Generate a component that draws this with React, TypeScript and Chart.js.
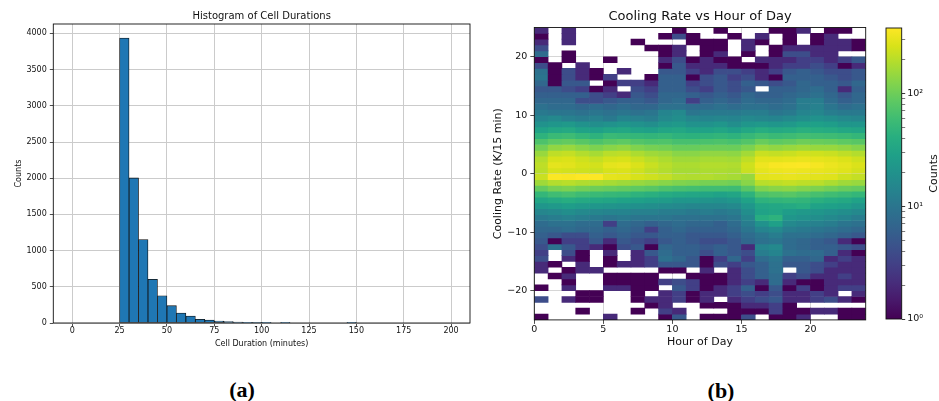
import React, { useEffect, useRef } from "react";
import { Chart, registerables } from "chart.js";

Chart.register(...registerables);
Chart.defaults.font.family = "'DejaVu Sans', sans-serif";
Chart.defaults.color = "#111";

// ---------- Histogram data ----------
const durationBinStart = [25, 30, 35, 40, 45, 50, 55, 60, 65, 70, 75, 80, 85, 90, 95, 100, 105, 110, 115, 120, 125, 130, 135, 140, 145];
const durationBinWidth = 5;
const durationCounts = [3935, 2004, 1153, 604, 377, 239, 138, 97, 52, 41, 28, 18, 13, 10, 6, 4, 0, 3, 0, 0, 0, 0, 0, 0, 4];
const durationTicks = [0, 25, 50, 75, 100, 125, 150, 175, 200];
const countTicks = [0, 500, 1000, 1500, 2000, 2500, 3000, 3500, 4000];

// ---------- Heatmap data ----------
const hourBinStart = [0, 1, 2, 3, 4, 5, 6, 7, 8, 9, 10, 11, 12, 13, 14, 15, 16, 17, 18, 19, 20, 21, 22, 23];
// lower edge of each cooling-rate bin, top row first
const rateBinStart = [24, 23, 22, 21, 20, 19, 18, 17, 16, 15, 14, 13, 12, 11, 10, 9, 8, 7, 6, 5, 4, 3, 2, 1, 0,
  -1, -2, -3, -4, -5, -6, -7, -8, -9, -10, -11, -12, -13, -14, -15, -16, -17, -18, -19, -20, -21, -22, -23, -24, -25];
const cellCounts: number[][] = [
  [2, 0, 2, 0, 0, 0, 0, 0, 0, 0, 1, 0, 0, 1, 0, 0, 0, 1, 1, 2, 0, 1, 1, 0],
  [1, 0, 2, 0, 0, 0, 0, 0, 0, 1, 4, 1, 0, 0, 1, 0, 2, 0, 1, 0, 1, 2, 0, 0],
  [2, 0, 2, 0, 0, 0, 0, 1, 0, 0, 0, 1, 1, 1, 0, 2, 1, 0, 1, 0, 1, 2, 2, 1],
  [4, 0, 0, 0, 0, 0, 0, 0, 1, 1, 2, 0, 1, 1, 0, 2, 0, 1, 2, 2, 2, 2, 2, 1],
  [8, 0, 1, 0, 0, 0, 0, 0, 0, 1, 2, 0, 1, 2, 0, 1, 0, 1, 4, 4, 2, 2, 0, 0],
  [1, 0, 1, 0, 0, 1, 0, 0, 0, 2, 4, 1, 2, 1, 1, 0, 2, 2, 2, 3, 3, 2, 3, 5],
  [4, 1, 0, 2, 0, 0, 0, 0, 0, 1, 5, 2, 2, 2, 1, 1, 1, 2, 3, 3, 4, 3, 1, 2],
  [9, 1, 4, 2, 1, 0, 2, 0, 0, 5, 5, 3, 2, 4, 4, 3, 2, 3, 5, 6, 5, 4, 4, 5],
  [10, 1, 4, 2, 1, 3, 0, 0, 1, 6, 6, 1, 4, 5, 3, 4, 2, 1, 6, 6, 6, 5, 4, 5],
  [7, 1, 5, 5, 0, 1, 3, 3, 2, 6, 6, 3, 4, 5, 4, 6, 5, 4, 5, 7, 6, 6, 5, 7],
  [5, 5, 4, 3, 1, 2, 0, 4, 3, 6, 6, 4, 3, 5, 4, 5, 0, 6, 6, 7, 8, 6, 2, 6],
  [6, 6, 6, 6, 4, 3, 2, 5, 4, 7, 7, 6, 5, 6, 5, 7, 6, 6, 7, 8, 9, 7, 5, 7],
  [7, 7, 7, 4, 4, 5, 6, 6, 5, 7, 8, 3, 6, 7, 6, 8, 7, 7, 8, 12, 12, 8, 6, 7],
  [9, 8, 8, 7, 8, 7, 8, 7, 7, 9, 9, 8, 8, 9, 8, 9, 9, 8, 9, 12, 13, 10, 8, 9],
  [11, 10, 10, 9, 10, 9, 10, 9, 10, 14, 16, 10, 11, 11, 11, 12, 12, 10, 11, 14, 15, 12, 11, 11],
  [14, 16, 13, 12, 13, 11, 14, 13, 12, 16, 18, 15, 14, 15, 14, 16, 15, 14, 16, 18, 20, 18, 16, 15],
  [20, 22, 24, 20, 18, 20, 22, 20, 18, 22, 24, 20, 20, 22, 18, 22, 24, 22, 24, 28, 28, 26, 22, 22],
  [30, 34, 36, 30, 28, 32, 34, 30, 28, 32, 34, 30, 30, 32, 28, 34, 40, 36, 38, 42, 40, 38, 34, 32],
  [45, 55, 58, 50, 45, 55, 52, 50, 48, 50, 45, 44, 46, 48, 45, 52, 60, 55, 58, 62, 60, 58, 55, 50],
  [70, 85, 90, 80, 70, 80, 85, 75, 70, 72, 65, 65, 68, 70, 66, 75, 95, 85, 90, 100, 95, 92, 85, 80],
  [105, 140, 150, 130, 115, 130, 140, 120, 110, 105, 95, 95, 100, 100, 98, 115, 150, 140, 150, 160, 150, 150, 140, 125],
  [150, 210, 220, 190, 170, 200, 210, 180, 160, 150, 130, 130, 140, 140, 135, 165, 230, 220, 230, 250, 240, 230, 210, 190],
  [190, 260, 270, 240, 220, 250, 260, 230, 200, 180, 160, 160, 170, 170, 165, 210, 290, 290, 300, 310, 300, 290, 270, 240],
  [210, 300, 290, 260, 250, 300, 310, 270, 230, 200, 180, 180, 190, 190, 185, 240, 330, 360, 370, 375, 350, 320, 300, 270],
  [200, 260, 250, 240, 230, 260, 270, 240, 210, 190, 170, 170, 180, 180, 175, 230, 300, 320, 330, 320, 310, 300, 280, 250],
  [230, 370, 360, 380, 375, 300, 290, 260, 240, 220, 190, 185, 190, 180, 170, 150, 290, 300, 310, 300, 290, 280, 240, 220],
  [160, 190, 200, 185, 180, 170, 160, 150, 140, 130, 120, 115, 110, 110, 105, 130, 200, 210, 220, 210, 200, 180, 160, 150],
  [90, 110, 115, 105, 100, 95, 90, 85, 80, 70, 65, 62, 60, 60, 58, 80, 120, 130, 135, 125, 115, 105, 95, 90],
  [50, 60, 65, 58, 55, 52, 50, 45, 42, 38, 35, 33, 32, 30, 32, 45, 70, 75, 80, 72, 65, 60, 55, 50],
  [32, 36, 40, 36, 34, 32, 30, 28, 26, 25, 22, 22, 21, 20, 22, 30, 45, 48, 50, 48, 42, 38, 35, 30],
  [22, 24, 26, 24, 22, 21, 20, 19, 18, 17, 16, 15, 15, 15, 16, 22, 32, 34, 36, 40, 30, 28, 26, 22],
  [15, 16, 18, 16, 15, 14, 14, 13, 13, 12, 12, 11, 12, 11, 12, 18, 30, 32, 26, 24, 22, 20, 18, 16],
  [11, 12, 13, 12, 11, 10, 11, 10, 10, 10, 9, 9, 9, 9, 10, 15, 40, 45, 22, 20, 18, 16, 14, 12],
  [8, 9, 9, 8, 8, 3, 8, 7, 6, 7, 8, 7, 7, 6, 8, 12, 20, 28, 16, 14, 13, 12, 10, 9],
  [7, 7, 8, 7, 7, 6, 7, 6, 3, 6, 7, 6, 6, 6, 7, 10, 14, 16, 12, 11, 10, 9, 8, 7],
  [6, 5, 4, 4, 6, 5, 6, 5, 5, 6, 6, 5, 5, 5, 6, 8, 10, 12, 9, 9, 8, 7, 6, 5],
  [5, 1, 3, 3, 5, 2, 5, 4, 3, 5, 6, 5, 4, 4, 5, 7, 9, 10, 8, 7, 6, 5, 2, 1],
  [4, 9, 5, 3, 2, 1, 4, 5, 1, 7, 6, 6, 5, 6, 5, 2, 14, 16, 8, 7, 6, 6, 5, 4],
  [3, 0, 4, 1, 0, 2, 0, 2, 5, 8, 6, 6, 4, 6, 5, 4, 12, 14, 9, 8, 8, 6, 2, 1],
  [4, 0, 2, 1, 0, 1, 0, 2, 3, 9, 7, 5, 1, 3, 7, 3, 8, 10, 6, 6, 7, 2, 3, 2],
  [2, 1, 0, 2, 0, 1, 2, 2, 3, 5, 5, 5, 1, 4, 3, 5, 6, 9, 5, 5, 4, 3, 2, 2],
  [2, 0, 1, 2, 2, 0, 0, 0, 0, 1, 1, 0, 2, 0, 2, 4, 6, 9, 0, 5, 4, 2, 2, 2],
  [0, 1, 2, 0, 0, 1, 1, 1, 1, 0, 0, 1, 1, 1, 2, 4, 6, 8, 3, 4, 2, 2, 3, 2],
  [0, 0, 1, 0, 0, 1, 1, 1, 1, 3, 4, 3, 1, 1, 2, 3, 2, 8, 2, 1, 1, 2, 2, 2],
  [1, 0, 2, 0, 0, 2, 2, 1, 1, 0, 5, 3, 1, 2, 3, 6, 1, 5, 1, 3, 1, 2, 3, 3],
  [0, 0, 0, 1, 1, 0, 0, 1, 0, 2, 3, 1, 2, 2, 3, 4, 3, 4, 2, 2, 3, 2, 0, 2],
  [4, 0, 2, 1, 1, 0, 0, 1, 2, 2, 3, 1, 2, 0, 2, 3, 4, 5, 2, 2, 3, 4, 2, 1],
  [0, 0, 0, 0, 0, 0, 0, 0, 1, 2, 0, 0, 1, 1, 1, 2, 2, 3, 1, 0, 0, 0, 0, 0],
  [0, 0, 0, 1, 0, 0, 0, 1, 0, 3, 2, 0, 0, 0, 1, 1, 1, 3, 1, 1, 2, 2, 1, 1],
  [1, 0, 0, 0, 0, 2, 0, 0, 0, 1, 5, 0, 1, 1, 1, 4, 0, 1, 1, 2, 0, 0, 1, 1],
];
const hourTicks = [0, 5, 10, 15, 20];
const rateTicks = [-20, -10, 0, 10, 20];
const colorbarMax = 380;
const colorbarMajor = [1, 10, 100];
const colorbarMinor = [2, 3, 4, 5, 6, 7, 8, 9, 20, 30, 40, 50, 60, 70, 80, 90, 200, 300];
const superscripts = ["\u2070", "\u00b9", "\u00b2"];

// ---------- styling ----------
const VIRIDIS = ["#440154", "#48186a", "#472d7b", "#424086", "#3b528b", "#33638d", "#2c728e", "#26828e",
  "#21918c", "#1fa088", "#28ae80", "#3fbc73", "#5ec962", "#84d44b", "#addc30", "#d8e219", "#fde725"];

function hexRgb(h: string) {
  return [parseInt(h.slice(1, 3), 16), parseInt(h.slice(3, 5), 16), parseInt(h.slice(5, 7), 16)];
}
function viridis(t: number) {
  const tt = Math.max(0, Math.min(1, t));
  const n = VIRIDIS.length - 1;
  const f = tt * n;
  const i = Math.min(Math.floor(f), n - 1);
  const u = f - i;
  const a = hexRgb(VIRIDIS[i]);
  const b = hexRgb(VIRIDIS[i + 1]);
  const c = a.map((v, k) => Math.round(v + (b[k] - v) * u));
  return `rgb(${c[0]},${c[1]},${c[2]})`;
}
function countColor(c: number) {
  return viridis(Math.log10(c) / Math.log10(colorbarMax));
}

const framePlugin = {
  id: "frame",
  afterDraw(chart: any) {
    const { ctx, chartArea: a } = chart;
    ctx.save();
    ctx.strokeStyle = "#111";
    ctx.lineWidth = 0.9;
    ctx.strokeRect(a.left, a.top, a.right - a.left, a.bottom - a.top);
    ctx.restore();
  },
};

const cbLabelPlugin = {
  id: "cbLabel",
  afterDraw(chart: any) {
    const { ctx, chartArea: a } = chart;
    ctx.save();
    ctx.translate(59, (a.top + a.bottom) / 2);
    ctx.rotate(-Math.PI / 2);
    ctx.font = "11px 'DejaVu Sans', sans-serif";
    ctx.fillStyle = "#111";
    ctx.textAlign = "center";
    ctx.textBaseline = "middle";
    ctx.fillText("Counts", 0, 0);
    ctx.restore();
  },
};

const noPlugins = { legend: { display: false }, tooltip: { enabled: false } };
const plainLabel = (v: any) => String(v);

function histConfig(): any {
  const points = durationBinStart
    .map((s, i) => ({ x: s + durationBinWidth / 2, y: durationCounts[i] }))
    .filter((p) => p.y > 0);
  const grid = { color: "#cbcbcb", lineWidth: 1, tickColor: "#222", tickLength: 3.5, tickWidth: 0.8, offset: false };
  return {
    type: "bar",
    data: {
      datasets: [{
        data: points,
        backgroundColor: "#1f77b4",
        borderColor: "#111",
        borderWidth: 0.8,
        borderSkipped: false,
        barPercentage: 1,
        categoryPercentage: 1,
      }],
    },
    options: {
      responsive: false,
      animation: false,
      layout: { padding: { left: 0, right: 10, top: 0, bottom: 0 } },
      plugins: {
        ...noPlugins,
        title: {
          display: true, text: "Histogram of Cell Durations", fullSize: false,
          font: { size: 10, weight: "normal" }, color: "#111", padding: { top: 10, bottom: 2 },
        },
      },
      scales: {
        x: {
          type: "linear", min: -10, max: 210, offset: false, grid, border: { display: false },
          ticks: { font: { size: 8 }, padding: 0, autoSkip: false, maxRotation: 0, callback: plainLabel },
          afterBuildTicks: (s: any) => { s.ticks = durationTicks.map((v) => ({ value: v })); },
          afterFit: (s: any) => { s.height = 26; },
          title: { display: true, text: "Cell Duration (minutes)", font: { size: 8 }, padding: { top: 0, bottom: 0 } },
        },
        y: {
          type: "linear", min: 0, max: 4130, grid, border: { display: false },
          ticks: { font: { size: 8 }, padding: 3, autoSkip: false, callback: plainLabel },
          afterBuildTicks: (s: any) => { s.ticks = countTicks.map((v) => ({ value: v })); },
          afterFit: (s: any) => { s.width = 53.3; },
          title: { display: true, text: "Counts", font: { size: 8 }, padding: { top: 14, bottom: 0 } },
        },
      },
    },
    plugins: [framePlugin],
  };
}

function heatConfig(): any {
  const datasets = rateBinStart.map((lo, r) => {
    const data: any[] = [];
    const colors: string[] = [];
    hourBinStart.forEach((h, c) => {
      const v = cellCounts[r][c];
      if (v > 0) {
        data.push({ x: h + 0.5, y: [lo, lo + 1] });
        colors.push(countColor(v));
      }
    });
    return {
      data, backgroundColor: colors, borderWidth: 0, grouped: false,
      barPercentage: 1, categoryPercentage: 1,
    };
  });
  const grid = { color: "rgba(200,200,200,0.75)", lineWidth: 1, tickColor: "#222", tickLength: 4, tickWidth: 0.8, offset: false };
  return {
    type: "bar",
    data: { datasets },
    options: {
      responsive: false,
      animation: false,
      layout: { padding: { left: 0, right: 9.3, top: 0, bottom: 0 } },
      plugins: {
        ...noPlugins,
        title: {
          display: true, text: "Cooling Rate vs Hour of Day", fullSize: false,
          font: { size: 13, weight: "normal" }, color: "#111", padding: { top: 9.2, bottom: 2.7 },
        },
      },
      scales: {
        x: {
          type: "linear", min: 0, max: 24, offset: false, z: 1, grid, border: { display: false },
          ticks: { font: { size: 9.5 }, padding: 0, autoSkip: false, maxRotation: 0, callback: plainLabel },
          afterBuildTicks: (s: any) => { s.ticks = hourTicks.map((v) => ({ value: v })); },
          afterFit: (s: any) => { s.height = 29.1; },
          title: { display: true, text: "Hour of Day", font: { size: 11 }, padding: { top: 0, bottom: 0 } },
        },
        y: {
          type: "linear", min: -25, max: 25, z: 1, grid, border: { display: false },
          ticks: {
            font: { size: 9.5 }, padding: 3, autoSkip: false,
            callback: (v: any) => String(v).replace("-", "\u2212"),
          },
          afterBuildTicks: (s: any) => { s.ticks = rateTicks.map((v) => ({ value: v })); },
          afterFit: (s: any) => { s.width = 54.3; },
          title: { display: true, text: "Cooling Rate (K/15 min)", font: { size: 11 }, padding: { top: 12, bottom: 0 } },
        },
      },
    },
    plugins: [framePlugin],
  };
}

function colorbarConfig(): any {
  return {
    type: "bar",
    data: {
      labels: [""],
      datasets: [{
        data: [[1, colorbarMax]],
        backgroundColor: (ctx: any) => {
          const a = ctx.chart.chartArea;
          if (!a) return VIRIDIS[0];
          const g = ctx.chart.ctx.createLinearGradient(0, a.bottom, 0, a.top);
          VIRIDIS.forEach((c, i) => g.addColorStop(i / (VIRIDIS.length - 1), c));
          return g;
        },
        borderWidth: 0,
        barPercentage: 1,
        categoryPercentage: 1,
      }],
    },
    options: {
      responsive: false,
      animation: false,
      layout: { padding: { left: 11, right: 0, top: 28, bottom: 30 } },
      plugins: { ...noPlugins },
      scales: {
        x: { display: false },
        y: {
          type: "logarithmic", position: "right", min: 1, max: colorbarMax,
          grid: {
            drawOnChartArea: false, drawTicks: true, tickLength: 3.5, tickColor: "#222",
            tickWidth: (c: any) => (c.tick && c.tick.major ? 0.9 : 0.6),
          },
          border: { display: false },
          ticks: {
            font: { size: 9.5 }, padding: 2, autoSkip: false,
            callback: (v: any) => {
              const i = colorbarMajor.indexOf(Number(v));
              return i >= 0 ? "10" + superscripts[i] : "";
            },
          },
          afterBuildTicks: (s: any) => {
            s.ticks = [
              ...colorbarMajor.map((v) => ({ value: v, major: true })),
              ...colorbarMinor.map((v) => ({ value: v, major: false })),
            ].sort((a, b) => a.value - b.value);
          },
          afterFit: (s: any) => { s.width = 37.3; },
        },
      },
    },
    plugins: [framePlugin, cbLabelPlugin],
  };
}

const captionStyle = (x: number, y: number): React.CSSProperties => ({
  position: "absolute",
  left: x,
  top: y,
  transform: "translate(-50%, -50%)",
  font: "bold 22px 'Liberation Serif', serif",
  color: "#000",
  whiteSpace: "nowrap",
  lineHeight: 1,
});

export default function App() {
  const histRef = useRef<HTMLCanvasElement>(null);
  const heatRef = useRef<HTMLCanvasElement>(null);
  const cbRef = useRef<HTMLCanvasElement>(null);

  useEffect(() => {
    const charts: Chart[] = [];
    if (histRef.current) charts.push(new Chart(histRef.current, histConfig()));
    if (heatRef.current) charts.push(new Chart(heatRef.current, heatConfig()));
    if (cbRef.current) charts.push(new Chart(cbRef.current, colorbarConfig()));
    return () => charts.forEach((c) => c.destroy());
  }, []);

  return (
    <div style={{ position: "absolute", left: 0, top: 0, width: 939, height: 401, background: "#fff", overflow: "hidden" }}>
      <canvas ref={histRef} width={480} height={349} style={{ position: "absolute", left: 0, top: 0 }} />
      <canvas ref={heatRef} width={395} height={349} style={{ position: "absolute", left: 480, top: 0 }} />
      <canvas ref={cbRef} width={64} height={349} style={{ position: "absolute", left: 875, top: 0 }} />
      <div style={captionStyle(242, 390)}>(a)</div>
      <div style={captionStyle(721, 391)}>(b)</div>
    </div>
  );
}
